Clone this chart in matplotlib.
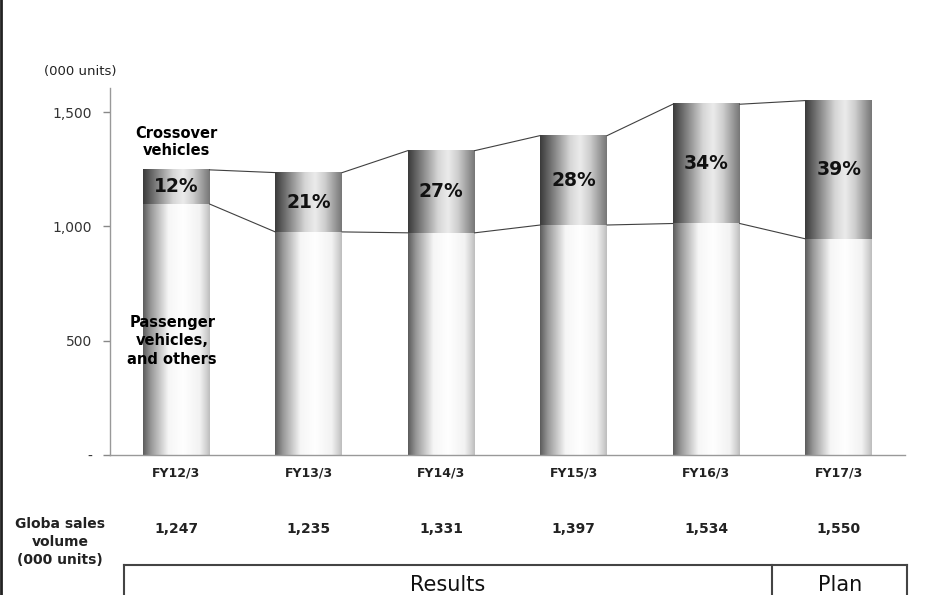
import numpy as np
import matplotlib
matplotlib.use("Agg")
import matplotlib.pyplot as plt
from matplotlib.colors import LinearSegmentedColormap
from matplotlib.lines import Line2D

# Global sales volume (000 units) and crossover share (%)
years = ["FY12/3", "FY13/3", "FY14/3", "FY15/3", "FY16/3", "FY17/3"]
totals = [1247, 1235, 1331, 1397, 1534, 1550]
crossover_pct = [12, 21, 27, 28, 34, 39]
total_labels = ["1,247", "1,235", "1,331", "1,397", "1,534", "1,550"]

yticks = [0, 500, 1000, 1500]
ytick_labels = ["-", "500", "1,000", "1,500"]

totals_arr = np.array(totals, dtype=float)
crossover = totals_arr * np.array(crossover_pct) / 100.0
passenger = totals_arr - crossover

# cylinder-like shading for the two segments
cmap_pass = LinearSegmentedColormap.from_list(
    "pass", [(0, "#5c5c5c"), (0.12, "#989898"), (0.38, "#f6f6f6"),
             (0.6, "#ffffff"), (0.85, "#f2f2f2"), (0.94, "#d4d4d4"), (1, "#bdbdbd")])
cmap_cross = LinearSegmentedColormap.from_list(
    "cross", [(0, "#3a3a3a"), (0.15, "#6e6e6e"), (0.45, "#d6d6d6"),
              (0.6, "#ebebeb"), (0.75, "#cdcdcd"), (1, "#767676")])
grad = np.linspace(0, 1, 256).reshape(1, -1)

fig = plt.figure(figsize=(9.45, 5.95), dpi=100)
ax = fig.add_axes([110 / 945, 1 - 455 / 595, 795 / 945, 367 / 595])

x = np.arange(len(years))
width = 0.505

bars_p = ax.bar(x, passenger, width, color="none", edgecolor="none")
bars_c = ax.bar(x, crossover, width, bottom=passenger, color="none", edgecolor="none")

for bp, bc in zip(bars_p, bars_c):
    for b, cm in ((bp, cmap_pass), (bc, cmap_cross)):
        x0, y0 = b.get_x(), b.get_y()
        ax.imshow(grad, cmap=cm, aspect="auto", zorder=2,
                  extent=(x0, x0 + b.get_width(), y0, y0 + b.get_height()))

# connector lines between neighbouring bars
for i in range(len(years) - 1):
    xa = x[i] + width / 2
    xb = x[i + 1] - width / 2
    ax.plot([xa, xb], [totals_arr[i], totals_arr[i + 1]], color="#404040", lw=0.8, zorder=3)
    ax.plot([xa, xb], [passenger[i], passenger[i + 1]], color="#404040", lw=0.8, zorder=3)

for i, pct in enumerate(crossover_pct):
    ax.text(x[i], passenger[i] + crossover[i] / 2, f"{pct}%", ha="center", va="center",
            fontsize=13.5, fontweight="bold", color="#111111", zorder=4)

ax.set_xlim(-0.5, len(years) - 0.5)
ax.set_ylim(0, 1605)
ax.set_yticks(yticks)
ax.set_yticklabels(ytick_labels, fontsize=10, color="#333333")
ax.set_xticks(x)
ax.set_xticklabels(years, fontsize=9, fontweight="bold", color="#222222")
ax.tick_params(axis="x", length=0, pad=8)
ax.tick_params(axis="y", length=5, width=1, color="#888888", pad=8)
for side in ("top", "right"):
    ax.spines[side].set_visible(False)
for side in ("left", "bottom"):
    ax.spines[side].set_color("#999999")
    ax.spines[side].set_linewidth(1)

ax.text(x[0], 1370, "Crossover\nvehicles", ha="center", va="center", fontsize=10.5,
        fontweight="bold", linespacing=1.2, zorder=4)
ax.text(x[0] - 0.03, 500, "Passenger\nvehicles,\nand others", ha="center", va="center",
        fontsize=10.5, fontweight="bold", linespacing=1.3, zorder=4)

fig.text(80 / 945, 1 - 72 / 595, "(000 units)", ha="center", va="center", fontsize=9.5,
         color="#222222")

# summary row under the chart
fig.text(60 / 945, 1 - 542 / 595, "Globa sales\nvolume\n(000 units)", ha="center",
         va="center", fontsize=10, fontweight="bold", color="#222222", linespacing=1.35)
for i, lab in enumerate(total_labels):
    xf = (110 + (x[i] + 0.5) * 795 / len(years)) / 945
    fig.text(xf, 1 - 529 / 595, lab, ha="center", va="center", fontsize=10,
             fontweight="bold", color="#222222")

box_top = 1 - 565 / 595
line_kw = dict(color="#444444", lw=1.5, transform=fig.transFigure)
fig.add_artist(Line2D([124 / 945, 907 / 945], [box_top, box_top], **line_kw))
for xp in (124, 772, 907):
    fig.add_artist(Line2D([xp / 945, xp / 945], [0, box_top], **line_kw))
fig.text(448 / 945, 1 - 585 / 595, "Results", ha="center", va="center", fontsize=15,
         color="#111111")
fig.text(840 / 945, 1 - 585 / 595, "Plan", ha="center", va="center", fontsize=15,
         color="#111111")

# frame line on the left edge
fig.add_artist(Line2D([0.001, 0.001], [0, 1], color="#222222", lw=2,
                      transform=fig.transFigure))

fig.savefig("out.png", dpi=100)
plt.close("all")
